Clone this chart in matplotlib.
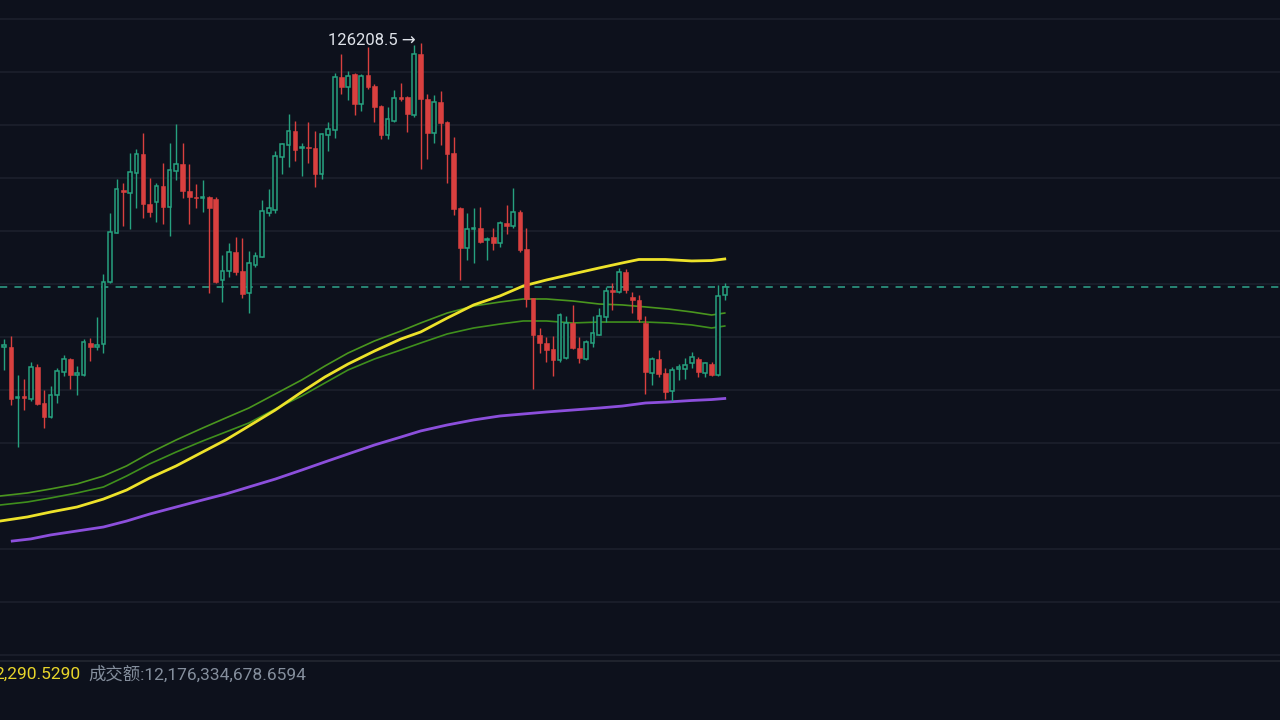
import numpy as np
import matplotlib
matplotlib.use('Agg')
import matplotlib.pyplot as plt

bg = '#0d111c'
grid_c = '#1b1f2b'
up_c = '#26a17f'
down_c = '#d9403f'

opens = [103220, 103270, 99360, 99550, 99300, 101760, 99000, 97940, 99620, 101380,
         102320, 101170, 101110, 103570, 103280, 103470, 108170, 111870, 115090, 114890,
         116400, 117790, 114040, 114170, 115400, 113790, 116530, 117030, 115020, 114590,
         114490, 114540, 114420, 108300, 109000, 110440, 109000, 107300, 109430, 110020,
         113380, 113590, 117610, 118490, 119550, 118260, 118340, 118240, 116300, 119250,
         119620, 123600, 122850, 123850, 121590, 123770, 122970, 121430, 119250, 120320,
         122140, 122090, 120750, 125360, 121960, 119420, 121760, 120250, 117910, 113710,
         110700, 112150, 112200, 111320, 111520, 111120, 112630, 112380, 113460, 110620,
         106920, 104150, 103570, 103070, 102270, 102390, 105080, 103150, 102320, 103570,
         104150, 105530, 107550, 107420, 108930, 107040, 106790, 105080, 101310, 102320,
         101310, 99950, 101560, 101560, 102020, 102320, 101310, 101960, 101130, 107170]
closes = [103420, 99300, 99470, 99430, 101710, 98940, 97940, 99620, 101430, 102320,
          101130, 101250, 103650, 103220, 103400, 108170, 111950, 115150, 114940, 116480,
          117790, 114040, 113410, 115400, 113790, 116600, 117030, 115020, 114590, 114490,
          114600, 113710, 108170, 108970, 110440, 108930, 107250, 109560, 110110, 113510,
          113710, 117680, 118570, 119550, 118110, 118360, 118230, 116300, 119320, 119680,
          123600, 122890, 123700, 121590, 123720, 122890, 121340, 119250, 120430, 122060,
          121940, 120830, 125360, 121940, 119420, 121760, 120170, 117810, 113640, 110700,
          112140, 112250, 111190, 111420, 111120, 112630, 112380, 113460, 110570, 106850,
          104150, 103570, 103020, 102270, 105660, 105080, 103150, 102390, 103650, 104280,
          105590, 107500, 107420, 108930, 107550, 106790, 105340, 101380, 102320, 101210,
          99870, 101510, 101710, 101890, 102470, 101380, 102020, 101130, 107090, 107800]
highs = [103850, 104080, 101130, 100810, 102140, 101960, 100000, 100300, 101640, 102640,
         102420, 101810, 103830, 103900, 105490, 108760, 113380, 115900, 115650, 117910,
         118170, 119370, 116020, 115600, 117160, 118620, 120080, 118620, 117030, 115550,
         115850, 114640, 114570, 110170, 111070, 111570, 111450, 110510, 110440, 114340,
         115150, 118060, 118660, 120830, 120320, 118660, 120250, 119570, 119420, 120200,
         123900, 125360, 124100, 123950, 123850, 125860, 123090, 121510, 121340, 122640,
         123190, 122190, 126030, 126208.5, 122340, 122260, 122570, 120320, 119070, 113800,
         113340, 113710, 113830, 111570, 112250, 112780, 113960, 115220, 113590, 112200,
         106920, 104660, 103980, 104080, 105810, 105590, 106420, 104020, 103770, 105590,
         106170, 107800, 108050, 109190, 109130, 107420, 107170, 105590, 102490, 103020,
         101640, 101710, 101960, 102390, 102890, 102490, 102140, 102140, 107930, 108050]
lows = [101510, 98870, 95680, 98490, 99170, 98870, 97110, 97890, 99040, 101060,
        100050, 99620, 101060, 102190, 103020, 102820, 108080, 111850, 112380, 112130,
        113710, 112960, 113080, 112700, 112530, 111620, 115850, 114470, 112530, 113710,
        113460, 107340, 108050, 106660, 108550, 108680, 106920, 105830, 109300, 110020,
        113130, 113380, 116300, 116850, 117280, 116170, 117110, 115340, 115900, 118060,
        119000, 122340, 121890, 120750, 121080, 122690, 120250, 118920, 118920, 120250,
        121830, 119490, 120630, 116660, 117410, 118620, 118490, 115600, 113210, 108300,
        109810, 109610, 111070, 109810, 110570, 110820, 111770, 112230, 110440, 106290,
        100050, 102770, 102140, 101060, 102140, 102340, 103070, 102060, 102270, 103270,
        104150, 105160, 106040, 107340, 107340, 105790, 105160, 99700, 100380, 101000,
        99300, 99190, 100760, 100810, 101640, 100960, 101000, 101060, 101060, 106790]

yellow_x = [-0.65, 3.5, 7, 11, 15, 18.5, 22, 26, 30, 33.5, 37, 41, 45, 48.5, 52, 56,
            60, 63, 67, 71, 75, 78.5, 82, 86, 90, 93.5, 96, 100, 104, 107, 109]
ma_yellow = [90110, 90420, 90790, 91170, 91770, 92450, 93360, 94270, 95320, 96230,
             97280, 98490, 99850, 100980, 101960, 102940, 103850, 104380, 105430, 106420,
             107100, 107850, 108300, 108760, 109210, 109590, 109850, 109850, 109740, 109770,
             109890]
green_x = [-0.65, 3.5, 7, 11, 15, 18.5, 22, 26, 30, 33.5, 37, 41, 45, 48.5, 52, 56,
           60, 63, 67, 71, 75, 78.5, 82, 86, 90, 93.5, 97, 100.5, 104, 107, 109]
ma_green1 = [92000, 92230, 92530, 92910, 93510, 94270, 95250, 96230, 97130, 97890,
             98640, 99700, 100760, 101810, 102790, 103700, 104450, 105060, 105810, 106340,
             106640, 106870, 106870, 106720, 106490, 106420, 106270, 106110, 105890, 105660,
             105810]
ma_green2 = [91320, 91550, 91850, 92230, 92680, 93510, 94420, 95320, 96150, 96830,
             97510, 98570, 99550, 100530, 101510, 102340, 103020, 103550, 104230, 104680,
             104980, 105210, 105210, 105060, 105130, 105130, 105130, 105060, 104910, 104680,
             104830]
purple_x = [1.2, 4, 7, 11, 15, 18.5, 22, 26, 30, 33.5, 37, 41, 45, 48.5, 52, 56,
            60, 63, 67, 71, 75, 78.5, 82, 86, 90, 93.5, 97, 100.5, 104, 107, 109]
ma_purple = [88600, 88760, 89060, 89360, 89660, 90110, 90640, 91170, 91700, 92150,
             92680, 93280, 93960, 94570, 95170, 95850, 96450, 96910, 97360, 97740,
             98040, 98190, 98340, 98490, 98640, 98790, 99020, 99100, 99210, 99280,
             99360]

last_price = 107800
max_label = '126208.5'
vol_text = '2,290.5290'
amount_text = '成交额:12,176,334,678.6594'

fig = plt.figure(figsize=(12.8, 7.2), dpi=100, facecolor=bg)
ax = fig.add_axes([0, 59/720, 1, 661/720])
ax.set_facecolor(bg)
ax.set_xlim(-0.65, 193.0)
ax.set_ylim(79548, 129434)
for s in ax.spines.values():
    s.set_visible(False)
ax.set_xticks([])
ax.set_yticks(np.arange(80000, 128001, 4000))
ax.tick_params(left=False, labelleft=False)
ax.grid(axis='y', color=grid_c, lw=1.3)
ax.set_axisbelow(True)

# moving averages
ax.plot(green_x, ma_green2, color='#3f8f1c', lw=1.2, zorder=2)
ax.plot(green_x, ma_green1, color='#4a961e', lw=1.2, zorder=2)
ax.plot(purple_x, ma_purple, color='#8c4fdc', lw=2.0, zorder=2)
ax.plot(yellow_x, ma_yellow, color='#ede22a', lw=2.0, zorder=2)

# candles
x = np.arange(len(opens))
o = np.array(opens)
c = np.array(closes)
up = c >= o
cols = np.where(up, up_c, down_c)
ax.vlines(x, lows, highs, colors=cols, lw=1.0, zorder=3)
bottom = np.minimum(o, c)
height = np.maximum(np.abs(c - o), 60)
ax.bar(x[up], height[up], bottom=bottom[up], width=0.55, facecolor=bg,
       edgecolor=up_c, lw=1.1, zorder=4)
ax.bar(x[~up], height[~up], bottom=bottom[~up], width=0.7, color=down_c,
       edgecolor=down_c, lw=0.4, zorder=4)

# current price line
ax.axhline(last_price, color='#2a8f7c', lw=1.3, ls=(0, (4, 4)), zorder=1)

# highest price marker
imax = int(np.argmax(highs))
ax.text(imax - 0.7, highs[imax] + 150, max_label + ' →', ha='right', va='center',
        color='#dfe3ea', fontsize=12, family=['Roboto', 'DejaVu Sans'], zorder=5)

# bottom info row
bx = fig.add_axes([0, 0, 1, 59/720])
bx.set_facecolor(bg)
bx.set_xticks([])
bx.set_yticks([])
for k, s in bx.spines.items():
    s.set_visible(k == 'top')
bx.spines['top'].set_color('#22262f')
bx.spines['top'].set_linewidth(1.3)

fig.text(-6/1280, 1 - 674/720, vol_text, color='#e8d52a', fontsize=12.5,
         family=['Roboto', 'Noto Sans CJK SC'], va='center', ha='left')
fig.text(88/1280, 1 - 674/720, amount_text, color='#848e9c', fontsize=12.5,
         family=['Roboto', 'Noto Sans CJK SC'], va='center', ha='left')

fig.savefig('out.png', dpi=100, facecolor=bg)
